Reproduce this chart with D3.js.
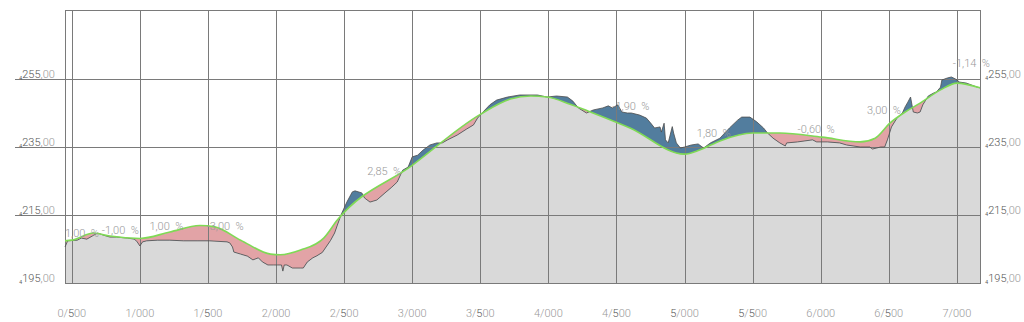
<!DOCTYPE html>
<meta charset="utf-8">
<style>
body { margin: 0; background: #fff; }
svg text { font-family: Roboto, "DejaVu Sans", sans-serif; font-weight: 300; white-space: pre; }
.grid line { stroke: #7a7a7a; stroke-width: 1; shape-rendering: crispEdges; }
.lbl { fill: #999; font-size: 11px; }
.dark { fill: #555; }
</style>
<body>
<svg width="1024" height="322"></svg>
<script src="https://d3js.org/d3.v7.min.js"></script>
<script>

// measured profile (km, elevation)
var actualKm = [0.45,0.47,0.54,0.57,0.61,0.65,0.69,0.73,0.78,0.83,0.91,0.96,0.98,1.00,1.02,1.05,1.13,1.22,1.32,1.42,1.51,1.64,1.66,1.68,1.69,1.74,1.79,1.83,1.87,1.90,1.94,1.98,2.01,2.04,2.05,2.06,2.08,2.12,2.18,2.20,2.23,2.27,2.30,2.34,2.40,2.43,2.45,2.48,2.52,2.56,2.58,2.63,2.65,2.69,2.74,2.80,2.85,2.89,2.93,2.97,3.00,3.04,3.08,3.13,3.18,3.22,3.26,3.33,3.40,3.45,3.48,3.52,3.57,3.62,3.70,3.79,3.92,3.99,4.06,4.14,4.18,4.22,4.28,4.33,4.40,4.44,4.47,4.51,4.54,4.58,4.61,4.67,4.72,4.75,4.78,4.82,4.83,4.85,4.86,4.88,4.91,4.92,4.94,4.97,5.00,5.05,5.10,5.14,5.19,5.26,5.33,5.39,5.42,5.48,5.53,5.58,5.61,5.65,5.70,5.74,5.75,5.83,5.94,5.97,6.05,6.14,6.19,6.29,6.36,6.38,6.44,6.47,6.49,6.52,6.56,6.60,6.62,6.64,6.66,6.68,6.71,6.73,6.75,6.79,6.83,6.85,6.88,6.89,6.93,6.96,6.99,7.02,7.07,7.15,7.17];
var actualElev = [205.6,207.4,207.6,208.2,207.9,208.8,209.7,209.1,208.5,208.5,208.2,207.9,207.1,205.9,207.1,207.4,207.6,207.6,207.4,207.4,207.4,207.1,206.8,205.6,204.1,203.5,202.9,201.8,202.4,201.2,200.3,200.3,200.3,200.3,198.5,200.3,200.3,199.4,199.4,199.4,201.2,202.4,203.0,204.0,207.5,209.7,212.0,215.3,218.8,221.8,222.1,221.5,220.0,218.8,219.4,221.5,223.2,224.7,228.2,229.1,232.1,232.6,234.1,235.6,236.2,236.2,237.1,238.5,240.3,241.5,243.5,245.3,247.4,248.8,249.7,250.3,250.3,249.7,250.0,249.7,248.5,246.5,245.0,245.9,246.5,247.1,246.5,247.4,245.3,245.0,245.0,244.4,243.5,242.1,240.6,240.9,239.4,242.0,237.1,236.2,241.0,239.1,236.2,234.7,235.0,235.6,235.9,234.7,236.2,237.6,240.6,242.9,243.8,243.8,242.4,240.6,239.1,237.6,236.2,235.3,236.2,236.5,237.1,236.5,236.5,236.2,235.6,235.0,235.0,234.4,235.0,235.0,237.1,240.9,243.5,245.0,246.8,248.2,249.7,245.3,245.0,245.3,247.4,250.0,250.9,251.2,252.6,254.7,255.3,255.6,255.0,254.1,253.8,252.6,252.4];

// design grade line (km, elevation)
var designKm = [0.45,0.50,0.66,0.78,1.00,1.22,1.44,1.55,1.74,1.96,2.03,2.18,2.35,2.45,3.00,3.50,3.72,3.87,3.99,4.16,4.31,4.60,5.00,5.11,5.26,5.50,5.70,6.01,6.29,6.40,6.51,6.62,6.73,6.88,7.00,7.17];
var designElev = [207.4,207.6,209.7,208.8,208.1,210.0,211.9,211.5,207.6,203.5,203.3,204.7,208.2,213.5,229.6,244.6,249.1,250.0,249.7,247.6,245.3,240.6,232.9,234.1,236.8,239.1,239.1,237.9,236.5,237.6,242.1,245.3,247.9,251.8,253.8,252.4];

var xTicks = [0.5,1.0,1.5,2.0,2.5,3.0,3.5,4.0,4.5,5.0,5.5,6.0,6.5,7.0];
var xTickLabels = ["0/500","1/000","1/500","2/000","2/500","3/000","3/500","4/000","4/500","5/000","5/500","6/000","6/500","7/000"];
var yTicks = [195,215,235,255];
var yTickLabels = ["195","215","235","255"];

var gradeText = ["1,00  %","-1,00  %","1,00  %","-3,00  %","2,85  %","-1,90  %","1,80  %","-0,60  %","3,00  %","-1,14  %"];
var gradeKm   = [0.45,0.72,1.07,1.49,2.67,4.47,5.09,5.83,6.34,6.97];
var gradeElev = [208.5,209.4,210.6,210.6,226.8,245.9,237.9,239.1,244.7,258.5];

var svg = d3.select("svg"),
    plotL = 65, plotR = 980, plotT = 10, plotB = 283;

var x = d3.scaleLinear().domain([0.45, 7.17]).range([plotL, plotR]),
    y = d3.scaleLinear().domain([195, 275.3]).range([plotB, plotT]);

var actual = actualKm.map(function(k, i) { return [k, actualElev[i]]; });
var design = designKm.map(function(k, i) { return [k, designElev[i]]; });

var designArea = d3.area().curve(d3.curveMonotoneX)
    .x(function(d) { return x(d[0]); }).y0(plotB).y1(function(d) { return y(d[1]); });
var actualArea = d3.area()
    .x(function(d) { return x(d[0]); }).y0(plotB).y1(function(d) { return y(d[1]); });

svg.append("clipPath").attr("id", "below-design")
  .append("path").attr("d", designArea(design));

// pink where ground is below grade, blue where above, gray beneath both
svg.append("path").attr("d", designArea(design)).attr("fill", "#e2a3a6");
svg.append("path").attr("d", actualArea(actual)).attr("fill", "#527d9e");
svg.append("path").attr("d", actualArea(actual)).attr("fill", "#d9d9d9")
    .attr("clip-path", "url(#below-design)");

// grid
var grid = svg.append("g").attr("class", "grid");
grid.selectAll(".v").data(xTicks).enter().append("line")
    .attr("x1", function(d) { return Math.round(x(d)) + 0.5; })
    .attr("x2", function(d) { return Math.round(x(d)) + 0.5; })
    .attr("y1", plotT).attr("y2", plotB);
grid.selectAll(".h").data(yTicks).enter().append("line")
    .attr("x1", function(d) { return d === 195 ? plotL : 15; }).attr("x2", plotR)
    .attr("y1", function(d) { return Math.round(y(d)) + 0.5; })
    .attr("y2", function(d) { return Math.round(y(d)) + 0.5; });
grid.append("rect").attr("x", plotL + 0.5).attr("y", plotT + 0.5)
    .attr("width", plotR - plotL).attr("height", plotB - plotT)
    .attr("fill", "none").attr("stroke", "#7a7a7a");

// profile lines
svg.append("path").datum(actual)
    .attr("d", d3.line().x(function(d) { return x(d[0]); }).y(function(d) { return y(d[1]); }))
    .attr("fill", "none").attr("stroke", "#4d4d4d").attr("stroke-width", 0.8);
svg.append("path").datum(design)
    .attr("d", d3.line().curve(d3.curveMonotoneX).x(function(d) { return x(d[0]); }).y(function(d) { return y(d[1]); }))
    .attr("fill", "none").attr("stroke", "#7fda55").attr("stroke-width", 1.6);

// y labels on both sides
[19, 985].forEach(function(px) {
  var t = svg.append("g").selectAll("text").data(yTicks).enter().append("text")
      .attr("class", "lbl")
      .attr("x", px)
      .attr("y", function(d) { return y(d) - 1; });
  t.append("tspan").attr("class", "dark").style("font-size", "9px").text("₄");
  t.append("tspan").attr("class", "dark").text(function(d, i) { return yTickLabels[i]; });
  t.append("tspan").text(",00");
});

// x labels
var xl = svg.append("g").selectAll("text").data(xTicks).enter().append("text")
    .attr("class", "lbl")
    .attr("x", function(d) { return x(d); })
    .attr("y", 317)
    .attr("text-anchor", "middle");
xl.each(function(d, i) {
  var el = d3.select(this);
  xTickLabels[i].split("").forEach(function(c) {
    el.append("tspan").attr("class", c === "5" ? "dark" : null).text(c);
  });
});

// grade annotations
svg.append("g").selectAll("text").data(gradeText).enter().append("text")
    .attr("class", "lbl")
    .attr("x", function(d, i) { return x(gradeKm[i]); })
    .attr("y", function(d, i) { return y(gradeElev[i]); })
    .text(function(d) { return d; });

</script>
</body>
